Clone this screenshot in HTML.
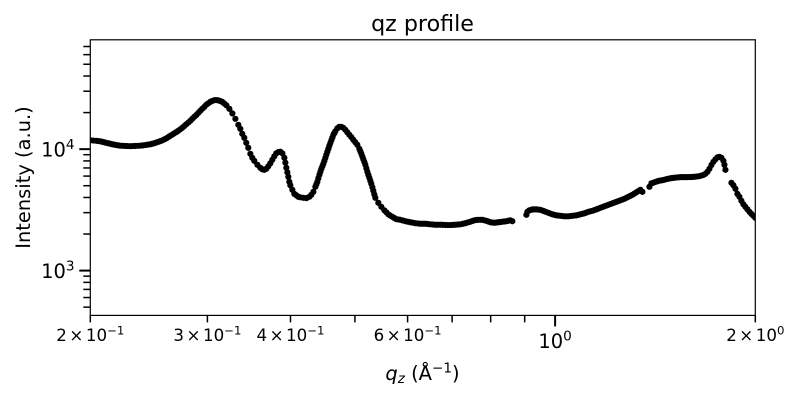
<!DOCTYPE html>
<html lang="en">
<head>
<meta charset="utf-8">
<title>qz profile</title>
<style>
html,body{margin:0;padding:0;background:#fff;}
svg{display:block;}
text{font-family:"DejaVu Sans","Liberation Sans",sans-serif;fill:#000;}
</style>
</head>
<body>
<svg id="chart" xmlns="http://www.w3.org/2000/svg" width="800" height="400" viewBox="0 0 800 400">
  <rect x="0" y="0" width="800" height="400" fill="#ffffff"/>
  <text x="422.5" y="31" text-anchor="middle" font-size="22.2">qz profile</text>
  <text transform="translate(30,177.5) rotate(-90)" text-anchor="middle" font-size="19.44">Intensity (a.u.)</text>
  <text x="422.5" y="380" text-anchor="middle" font-size="19.44"><tspan font-style="italic">q</tspan><tspan font-style="italic" font-size="13.6" dy="3">z</tspan><tspan dy="-3"> (Å</tspan><tspan font-size="13.6" dy="-7.5">−1</tspan><tspan dy="7.5">)</tspan></text>
  <g id="marks"></g>
  <g id="ticks"></g>
  <g id="labels"></g>
  <rect x="90.3" y="39.8" width="665" height="275.6" fill="none" stroke="#000" stroke-width="1.2"/>
</svg>
<script>
const qz = [
0.2000,0.2021,0.2042,0.2056,0.2070,0.2084,0.2099,0.2113,0.2128,0.2143,
0.2158,0.2173,0.2188,0.2204,0.2219,0.2238,0.2258,0.2277,0.2297,0.2317,
0.2337,0.2357,0.2378,0.2399,0.2420,0.2441,0.2462,0.2479,0.2496,0.2513,
0.2531,0.2549,0.2567,0.2585,0.2603,0.2620,0.2638,0.2657,0.2675,0.2694,
0.2712,0.2731,0.2750,0.2769,0.2788,0.2808,0.2828,0.2847,0.2867,0.2888,
0.2908,0.2927,0.2947,0.2968,0.2988,0.3009,0.3030,0.3051,0.3072,0.3093,
0.3115,0.3137,0.3159,0.3181,0.3204,
0.3237,0.3271,0.3305,0.3339,0.3362,0.3385,0.3409,0.3432,0.3456,0.3481,
0.3505,0.3529,0.3567,0.3603,0.3628,0.3653,0.3678,0.3704,0.3730,0.3756,
0.3782,0.3808,0.3835,0.3862,0.3889,0.3916,0.3930,0.3943,0.3957,0.3970,
0.3984,0.3998,0.4026,0.4054,0.4082,0.4110,0.4139,0.4182,0.4226,0.4270,
0.4300,0.4330,0.4360,0.4375,0.4390,0.4405,0.4421,0.4436,0.4451,0.4467,
0.4482,0.4498,0.4514,0.4529,0.4545,0.4561,0.4576,0.4592,0.4608,0.4624,
0.4640,0.4656,0.4672,0.4705,0.4737,0.4770,0.4803,0.4837,0.4870,0.4904,
0.4938,0.4972,0.5007,0.5042,0.5077,0.5095,0.5113,0.5130,0.5148,0.5166,
0.5184,0.5202,0.5220,0.5238,0.5256,0.5274,0.5292,0.5311,0.5329,0.5347,0.5366,
0.5422,0.5479,0.5537,0.5575,0.5613,0.5653,0.5692,0.5732,0.5772,0.5812,
0.5852,0.5903,0.5954,0.6006,0.6058,0.6111,0.6164,0.6217,0.6271,0.6326,
0.6381,0.6436,0.6492,0.6548,0.6605,0.6663,0.6721,0.6779,0.6838,0.6898,
0.6958,0.7018,0.7079,0.7141,0.7203,0.7266,0.7329,0.7393,0.7457,0.7509,
0.7561,0.7613,0.7666,0.7720,0.7773,0.7827,0.7881,0.7936,0.7992,0.8047,
0.8103,0.8160,0.8217,0.8273,0.8331,0.8389,0.8447,0.8506,0.8565,0.8624,
0.9053,0.9085,0.9147,0.9211,0.9243,0.9307,0.9372,0.9437,0.9502,0.9568,
0.9634,0.9701,0.9769,0.9837,0.9905,0.9974,1.0043,1.0113,1.0184,1.0255,
1.0326,1.0398,1.0470,1.0543,1.0616,1.0690,1.0764,1.0839,1.0914,1.0990,
1.1067,1.1144,1.1221,1.1299,1.1378,1.1457,1.1536,1.1616,1.1697,1.1778,
1.1860,1.1943,1.2026,1.2109,1.2193,1.2278,1.2363,1.2449,1.2536,1.2623,
1.2711,1.2799,1.2888,1.2978,1.3068,1.3159,1.3250,1.3342,1.3435,1.3528,
1.3861,1.3957,1.4054,1.4152,1.4250,1.4349,1.4449,1.4549,1.4650,1.4752,
1.4855,1.4959,1.5063,1.5168,1.5272,1.5379,1.5485,1.5593,1.5701,1.5811,
1.5921,1.6031,1.6143,1.6255,1.6368,1.6482,1.6596,1.6712,1.6827,
1.6945,1.7062,1.7181,1.7301,1.7421,1.7542,1.7664,1.7786,1.7910,1.7972,1.8035,
1.8414,1.8542,1.8671,1.8800,1.8931,1.9062,1.9194,1.9327,1.9461,1.9598,1.9734,1.9871,2.0000
];
const intensity = [
11820,11770,11710,11660,11600,11500,11390,11280,11180,11080,
10970,10890,10810,10740,10680,10650,10620,10600,10580,10600,
10620,10650,10680,10740,10810,10890,10970,11070,11180,11330,
11480,11640,11820,12040,12270,12560,12870,13170,13490,13810,
14150,14550,14980,15480,16010,16540,17100,17760,18440,19150,
19900,20660,21460,22280,23150,23850,24500,24950,25310,25350,
25210,24900,24500,23750,22940,
21460,19700,17760,15850,14700,13370,12390,11270,10250,9150,
8480,8010,7430,7020,6820,6755,6880,7216,7640,8165,
8720,9230,9450,9530,9230,8480,7740,7020,6440,5915,
5380,5040,4625,4280,4170,4050,4012,3975,3950,4050,
4207,4453,4895,5130,5380,5750,6144,6500,6880,7220,
7570,8010,8480,9000,9530,10080,10650,11230,11820,12450,
13120,13560,14030,14850,15260,15260,14980,14420,13770,13120,
12560,11930,11390,10850,10060,9600,9150,8690,8240,7830,
7430,6950,6500,6130,5805,5480,5180,4860,4540,4240,3975,
3613,3350,3135,3020,2906,2830,2770,2710,2650,2635,
2620,2585,2550,2525,2500,2478,2455,2443,2430,2430,
2430,2418,2405,2395,2385,2385,2385,2380,2375,2372,
2370,2378,2385,2395,2405,2430,2455,2490,2525,2560,
2595,2608,2620,2620,2620,2595,2570,2535,2500,2488,
2475,2488,2500,2512,2525,2538,2550,2572,2595,2550,
2880,3047,3135,3165,3190,3190,3190,3178,3165,3122,
3080,3035,2990,2948,2906,2878,2850,2838,2825,2812,
2800,2800,2800,2812,2825,2838,2850,2878,2906,2933,
2960,3003,3047,3076,3105,3148,3190,3238,3287,3333,
3380,3430,3480,3530,3580,3630,3680,3735,3790,3845,
3900,3975,4050,4128,4207,4309,4411,4518,4625,4450,
4895,5230,5290,5370,5440,5500,5530,5570,5630,5680,
5730,5770,5800,5830,5850,5870,5880,5880,5880,5885,
5890,5900,5910,5930,5960,5990,6060,6130,6262,
6500,6880,7400,7860,8240,8560,8650,8480,8010,7430,6755,
5280,5040,4710,4280,4050,3753,3512,3350,3195,3047,2930,2825,2720
];
const xMajorTicks = [1];
const xMinorTicks = [0.2,0.3,0.4,0.5,0.6,0.7,0.8,0.9,2];
const xLabelValues = [0.2,0.3,0.4,0.6,2];
const xLabelMantissas = ["2","3","4","6","2"];
const xLabelExponents = ["−1","−1","−1","−1","0"];
const xMajorLabelValues = [1];
const xMajorLabelExponents = ["0"];
const yMajorTicks = [1000,10000];
const yMinorTicks = [500,600,700,800,900,2000,3000,4000,5000,6000,7000,8000,9000,20000,30000,40000,50000,60000,70000];
const yMajorLabelExponents = ["3","4"];

const NS = "http://www.w3.org/2000/svg";
const plot = {left:90.3,right:755.3,top:39.8,bottom:315.4};
const xDomain = [0.2,2];
const yDomain = [427.6,79500];
function xScale(v){
  return plot.left+(Math.log10(v)-Math.log10(xDomain[0]))/(Math.log10(xDomain[1])-Math.log10(xDomain[0]))*(plot.right-plot.left);
}
function yScale(v){
  return plot.bottom-(Math.log10(v)-Math.log10(yDomain[0]))/(Math.log10(yDomain[1])-Math.log10(yDomain[0]))*(plot.bottom-plot.top);
}
const marks = document.getElementById("marks");
const ticks = document.getElementById("ticks");
const labels = document.getElementById("labels");

clipDef();
function clipDef(){
  const defs = document.createElementNS(NS,"defs");
  const cp = document.createElementNS(NS,"clipPath");
  cp.setAttribute("id","plot-clip");
  const r = document.createElementNS(NS,"rect");
  r.setAttribute("x",plot.left);
  r.setAttribute("y",plot.top);
  r.setAttribute("width",plot.right-plot.left);
  r.setAttribute("height",plot.bottom-plot.top);
  cp.appendChild(r);
  defs.appendChild(cp);
  document.getElementById("chart").appendChild(defs);
  marks.setAttribute("clip-path","url(#plot-clip)");
}

qz.forEach(function(q,i){
  const c = document.createElementNS(NS,"circle");
  
  
  c.setAttribute("cx",xScale(q).toFixed(2));
  c.setAttribute("cy",yScale(intensity[i]).toFixed(2));
  c.setAttribute("r","3.1");
  c.setAttribute("fill","#000");
  marks.appendChild(c);
});

function tickLine(x1,y1,x2,y2,w){
  const l = document.createElementNS(NS,"line");
  l.setAttribute("x1",x1);
  l.setAttribute("y1",y1);
  l.setAttribute("x2",x2);
  l.setAttribute("y2",y2);
  l.setAttribute("stroke","#000");
  l.setAttribute("stroke-width",w);
  return l;
}
xMajorTicks.forEach(function(v){
  const l = tickLine(xScale(v),plot.bottom,xScale(v),plot.bottom+11,2);
  
  
  ticks.appendChild(l);
});
xMinorTicks.forEach(function(v){
  const l = tickLine(xScale(v),plot.bottom,xScale(v),plot.bottom+7,1.5);
  
  
  ticks.appendChild(l);
});
yMajorTicks.forEach(function(v){
  const l = tickLine(plot.left-11,yScale(v),plot.left,yScale(v),2);
  
  
  ticks.appendChild(l);
});
yMinorTicks.forEach(function(v){
  const l = tickLine(plot.left-7,yScale(v),plot.left,yScale(v),1.5);
  
  
  ticks.appendChild(l);
});

function addSpan(parent,str,size,dy,dx){
  const s = document.createElementNS(NS,"tspan");
  s.textContent = str;
  s.setAttribute("font-size",size);
  if(dy){s.setAttribute("dy",dy);}
  if(dx){s.setAttribute("dx",dx);}
  parent.appendChild(s);
}
xLabelValues.forEach(function(v,i){
  const t = document.createElementNS(NS,"text");
  
  
  t.setAttribute("x",xScale(v));
  t.setAttribute("y",341);
  t.setAttribute("text-anchor","middle");
  addSpan(t,xLabelMantissas[i],16.67,0,0);
  addSpan(t,"×",16.67,0,2.5);
  addSpan(t,"10",16.67,0,2.5);
  addSpan(t,xLabelExponents[i],11.7,-6.5,0);
  labels.appendChild(t);
});
xMajorLabelValues.forEach(function(v,i){
  const t = document.createElementNS(NS,"text");
  
  
  t.setAttribute("x",xScale(v));
  t.setAttribute("y",348);
  t.setAttribute("text-anchor","middle");
  addSpan(t,"10",19.44,0,0);
  addSpan(t,xMajorLabelExponents[i],13.6,-7.5,0);
  labels.appendChild(t);
});
yMajorTicks.forEach(function(v,i){
  const t = document.createElementNS(NS,"text");
  
  
  t.setAttribute("x",74.5);
  t.setAttribute("y",yScale(v)+7.2);
  t.setAttribute("text-anchor","end");
  addSpan(t,"10",19.44,0,0);
  addSpan(t,yMajorLabelExponents[i],13.6,-7.5,0);
  labels.appendChild(t);
});
</script>
</body>
</html>
